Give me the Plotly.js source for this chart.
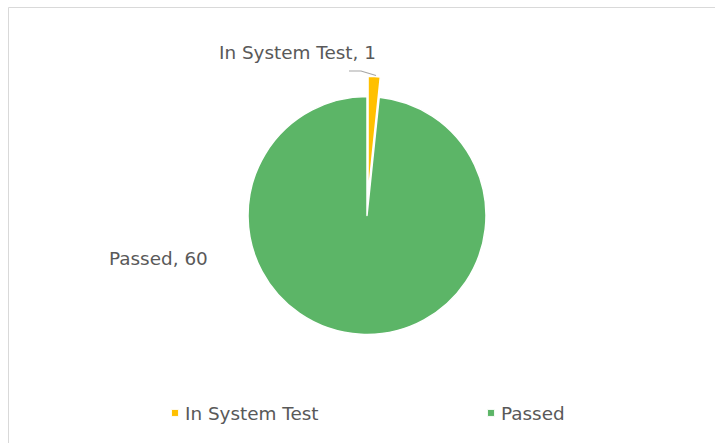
<!DOCTYPE html>
<html><head><meta charset="utf-8">
<script src="https://cdn.plot.ly/plotly-3.0.1.min.js"></script>
<style>
html,body{margin:0;padding:0;background:#fff;}
#chart{width:715px;height:443px;}
</style></head>
<body><div id="chart"></div>
<script>
const labels = ["In System Test", "Passed"];
const values = [1, 60];
const colors = ["#FFC000", "#5CB567"];
const pulls = [0.17, 0];

const W = 715, H = 443;
const px = x => x / W;
const py = y => 1 - y / H;
const textColor = "#595959";
const fontFam = "'DejaVu Sans', sans-serif";
const fs = 18.4;

const trace = {
  type: "pie",
  labels: labels,
  values: values,
  marker: {colors: colors, line: {color: "#ffffff", width: 1.5}},
  pull: pulls,
  sort: false,
  direction: "clockwise",
  rotation: 0,
  textinfo: "none",
  hoverinfo: "label+value",
  domain: {x: [px(367 - 139.2), px(367 + 139.2)], y: [py(215.5 + 139.2), py(215.5 - 139.2)]}
};

const layout = {
  width: W, height: H,
  margin: {l: 0, r: 0, t: 0, b: 0},
  paper_bgcolor: "#ffffff",
  showlegend: true,
  legend: {
    orientation: "h", x: px(145), xanchor: "left", y: py(413), yanchor: "middle",
    font: {family: fontFam, size: fs, color: textColor},
    bgcolor: "rgba(0,0,0,0)"
  },
  font: {family: fontFam, color: textColor},
  annotations: [
    {xref: "paper", yref: "paper", x: px(297), y: py(52), xanchor: "center", yanchor: "middle",
     text: labels[0] + ", " + values[0],
     showarrow: false, font: {family: fontFam, size: fs, color: textColor}},
    {xref: "paper", yref: "paper", x: px(158), y: py(258), xanchor: "center", yanchor: "middle",
     text: labels[1] + ", " + values[1],
     showarrow: false, font: {family: fontFam, size: fs, color: textColor}}
  ],
  shapes: [
    {type: "rect", xref: "paper", yref: "paper", x0: px(8.5), y0: py(7.5), x1: 1.05, y1: -0.05,
     line: {color: "#d9d9d9", width: 1}, fillcolor: "rgba(0,0,0,0)"},
    {type: "path", xref: "paper", yref: "paper",
     path: "M" + px(349) + "," + py(71) + " L" + px(361) + "," + py(71) + " L" + px(376) + "," + py(75.5),
     line: {color: "#a6a6a6", width: 1.2}}
  ]
};

Plotly.newPlot("chart", [trace], layout, {displayModeBar: false, staticPlot: true}).then(gd => {
  // legend fine-tuning: small square markers close to text, items spaced like the original
  gd.querySelectorAll(".legend [clip-path]").forEach(el => el.removeAttribute("clip-path"));
  const items = gd.querySelectorAll(".legend .traces");
  items.forEach(g => {
    g.querySelectorAll("path.legendpie").forEach(p => p.setAttribute("transform", "translate(30,0) scale(0.58)"));
  });
  if (items.length > 1) {
    const re = /translate\(([-\d.]+)[ ,]*([-\d.]+)?\)/;
    const m0 = re.exec(items[0].getAttribute("transform") || "translate(0,0)");
    const m1 = re.exec(items[1].getAttribute("transform") || "translate(0,0)");
    const x0 = parseFloat(m0[1]);
    const y1 = m1[2] ? parseFloat(m1[2]) : 0;
    items[1].setAttribute("transform", "translate(" + (x0 + 316) + "," + y1 + ")");
  }
});
</script></body></html>
